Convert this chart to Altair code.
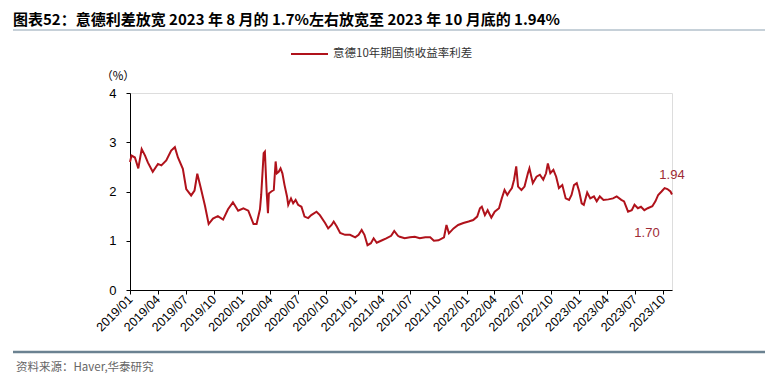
import altair as alt
import pandas as pd

dates = [
    "2019-01-01", "2019-01-06", "2019-01-17", "2019-01-28", "2019-02-08", "2019-02-19", "2019-02-28",
    "2019-03-16", "2019-04-02", "2019-04-13", "2019-04-29", "2019-05-15", "2019-05-27", "2019-06-06",
    "2019-06-22", "2019-07-03", "2019-07-19", "2019-07-30", "2019-08-08", "2019-08-19", "2019-09-02",
    "2019-09-14", "2019-09-28", "2019-10-14", "2019-10-31", "2019-11-16", "2019-12-02", "2019-12-19",
    "2020-01-05", "2020-01-21", "2020-02-07", "2020-02-17", "2020-02-28",
    "2020-03-03", "2020-03-11", "2020-03-15", "2020-03-19", "2020-03-21", "2020-03-25", "2020-03-28",
    "2020-04-05", "2020-04-13", "2020-04-19", "2020-04-23", "2020-04-29", "2020-05-05", "2020-05-11",
    "2020-05-18", "2020-05-26", "2020-05-30", "2020-06-08", "2020-06-15", "2020-06-23", "2020-07-01",
    "2020-07-12", "2020-07-22", "2020-08-03", "2020-08-13", "2020-08-30", "2020-09-10", "2020-09-27",
    "2020-10-07", "2020-10-18", "2020-10-25", "2020-11-04", "2020-11-15", "2020-12-01", "2020-12-17",
    "2021-01-03", "2021-01-14", "2021-01-24", "2021-02-02", "2021-02-12", "2021-02-23", "2021-03-04",
    "2021-03-14", "2021-03-28", "2021-04-14", "2021-04-30", "2021-05-10", "2021-05-22",
    "2021-05-28", "2021-06-13", "2021-06-30", "2021-07-16", "2021-08-01", "2021-08-19", "2021-09-04",
    "2021-09-16", "2021-10-01", "2021-10-19", "2021-10-27", "2021-11-04", "2021-11-19", "2021-12-04",
    "2021-12-21", "2022-01-07", "2022-01-22", "2022-02-04", "2022-02-13", "2022-02-19", "2022-03-01",
    "2022-03-10", "2022-03-22", "2022-04-02", "2022-04-16", "2022-04-25", "2022-05-04", "2022-05-13",
    "2022-05-20", "2022-05-28", "2022-06-04", "2022-06-11", "2022-06-17", "2022-06-28", "2022-07-08",
    "2022-07-19", "2022-07-24",
    "2022-08-04", "2022-08-16", "2022-08-27", "2022-09-07", "2022-09-16", "2022-09-22", "2022-09-30",
    "2022-10-10", "2022-10-19", "2022-10-28", "2022-11-08", "2022-11-19", "2022-11-30", "2022-12-08",
    "2022-12-16", "2022-12-25", "2023-01-02", "2023-01-10", "2023-01-17", "2023-01-28", "2023-02-07",
    "2023-02-19", "2023-02-28", "2023-03-10", "2023-03-22", "2023-04-07", "2023-04-22", "2023-05-04",
    "2023-05-19", "2023-05-28", "2023-06-10", "2023-06-22", "2023-07-01", "2023-07-12", "2023-07-22",
    "2023-08-02", "2023-08-13", "2023-08-28", "2023-09-07", "2023-09-16", "2023-09-27", "2023-10-07",
    "2023-10-16", "2023-10-26", "2023-10-31",
]

spread = [
    2.60, 2.73, 2.69, 2.47, 2.86, 2.73, 2.59,
    2.40, 2.56, 2.53, 2.63, 2.83, 2.90, 2.69,
    2.46, 2.05, 1.92, 2.02, 2.36, 2.08, 1.71,
    1.34, 1.45, 1.50, 1.43, 1.64, 1.78, 1.61,
    1.66, 1.61, 1.34, 1.34, 1.64,
    1.93, 2.78, 2.81, 2.24, 1.96, 1.56, 1.96,
    2.00, 2.03, 2.61, 2.37, 2.40, 2.47, 2.37,
    2.13, 1.90, 1.73, 1.86, 1.76, 1.83, 1.73,
    1.69, 1.49, 1.46, 1.52, 1.59, 1.52, 1.36,
    1.25, 1.32, 1.39, 1.29, 1.16, 1.12, 1.12,
    1.07, 1.12, 1.22, 1.12, 0.91, 0.95, 1.05,
    0.96, 1.00, 1.05, 1.10, 1.20, 1.10,
    1.08, 1.05, 1.07, 1.08, 1.05, 1.07, 1.07,
    1.00, 1.01, 1.07, 1.32, 1.15, 1.25, 1.32,
    1.36, 1.39, 1.42, 1.49, 1.66, 1.69, 1.52,
    1.62, 1.47, 1.59, 1.66, 1.86, 2.03, 1.93,
    2.00, 2.07, 2.24, 2.51, 2.10, 2.03, 2.10,
    2.37, 2.47,
    2.17, 2.30, 2.34, 2.24, 2.37, 2.57, 2.37,
    2.44, 2.30, 2.07, 2.13, 1.86, 1.83, 1.93,
    2.13, 2.17, 2.00, 1.76, 1.73, 1.98, 1.86,
    1.90, 1.80, 1.90, 1.83, 1.84, 1.86, 1.90,
    1.83, 1.80, 1.59, 1.62, 1.73, 1.66, 1.69,
    1.62, 1.66, 1.70, 1.80, 1.93, 2.00, 2.07,
    2.05, 2.00, 1.94,
]

tick_years = [2019] * 4 + [2020] * 4 + [2021] * 4 + [2022] * 4 + [2023] * 4
tick_months = [1, 4, 7, 10] * 5

title_text = "图表52：意德利差放宽 2023 年 8 月的 1.7%左右放宽至 2023 年 10 月底的 1.94%"
legend_text = "意德10年期国债收益率利差"
unit_text = "（%）"
source_text = "资料来源：Haver,华泰研究"
ann_labels = ["1.94", "1.70"]

LINE = "#b0121b"
ANN = "#9e2b36"
CJK = "Noto Sans CJK SC"
LAT = "Liberation Sans"

df = pd.DataFrame({"date": dates, "value": spread})

x_ticks = [alt.DateTime(year=y, month=m, date=1, utc=True) for y, m in zip(tick_years, tick_months)]

line = alt.Chart(df).mark_line(color=LINE, strokeWidth=2).encode(
    x=alt.X(
        "date:T",
        scale=alt.Scale(
            type="utc",
            domain=[alt.DateTime(year=2019, month=1, date=1, utc=True),
                    alt.DateTime(year=2023, month=10, date=31, utc=True)],
        ),
        axis=alt.Axis(
            values=x_ticks, labelExpr="utcFormat(datum.value, '%Y/%m')", title=None,
            labelAngle=-45, labelAlign="right", labelBaseline="middle",
            labelFont=LAT, labelFontSize=12.5, labelColor="#000000",
            labelPadding=3, tickSize=4, tickColor="#000000",
            domainColor="#000000", grid=False, labelOverlap=False,
        ),
    ),
    y=alt.Y(
        "value:Q",
        scale=alt.Scale(domain=[0, 4], nice=False),
        axis=alt.Axis(
            values=[0, 1, 2, 3, 4], title=None, grid=False,
            labelFont=LAT, labelFontSize=13, labelColor="#000000",
            labelPadding=10, tickSize=4, tickColor="#000000", domainColor="#000000",
        ),
    ),
)


def txt(s, x, y, size, color="#000000", font=CJK, weight="normal", align="left"):
    return alt.Chart(pd.DataFrame({"t": [s]})).mark_text(
        font=font, fontSize=size, color=color, fontWeight=weight,
        align=align, baseline="middle",
    ).encode(x=alt.value(x), y=alt.value(y), text="t:N")


def rule(x1, x2, y, color, width):
    return alt.Chart(pd.DataFrame({"a": [0]})).mark_rule(color=color, strokeWidth=width).encode(
        x=alt.value(x1), x2=alt.value(x2), y=alt.value(y)
    )


layers = [
    line,
    txt(title_text, -117, -73, 15, font=CJK, weight="bold"),
    rule(-117, 635, -63, "#8da2b2", 1),
    rule(161, 198, -39, LINE, 2),
    txt(legend_text, 203, -39, 11.5, color="#333333"),
    txt(unit_text, -12, -16, 11.5, color="#000000", align="center"),
    txt(ann_labels[0], 542, 82, 13, color=ANN, font=LAT, align="center"),
    txt(ann_labels[1], 517, 140, 13, color=ANN, font=LAT, align="center"),
    rule(-117, 635, 259, "#6b8291", 2.5),
    txt(source_text, -114, 275, 11.5, color="#666666"),
]

chart = alt.layer(*layers).properties(
    width=542,
    height=197,
    autosize=alt.AutoSizeParams(type="none"),
    padding={"left": 122, "top": 85, "right": 93, "bottom": 84},
).configure_view(stroke=None).configure(background="#ffffff")

chart.save("out.html", embed_options={"renderer": "svg", "actions": False})
